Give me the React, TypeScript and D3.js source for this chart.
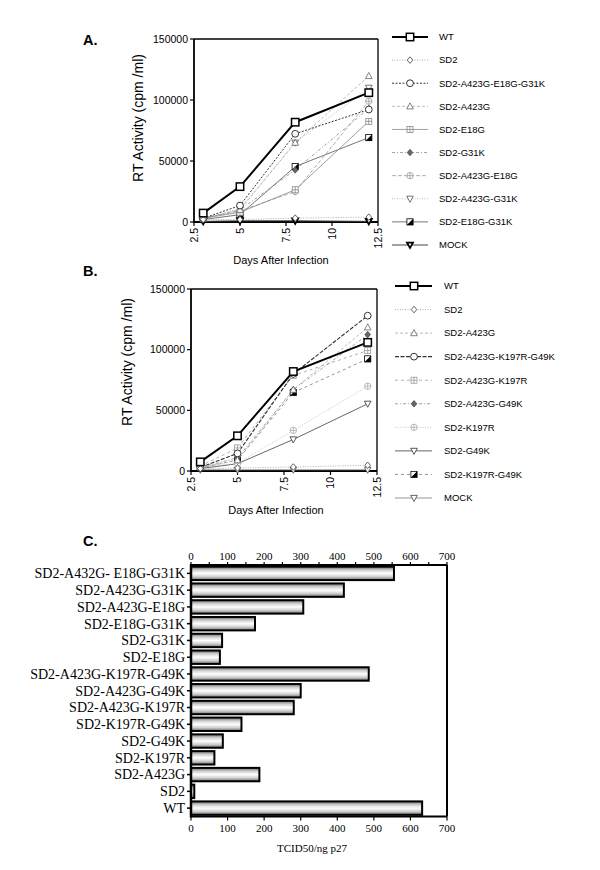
import React from 'react';
import * as d3 from 'd3';

// ---------- shared ----------
const days = [3, 5, 8, 12];
const xTicks = [2.5, 5, 7.5, 10, 12.5];
const xTickLabels = ['2.5', '5', '7.5', '10', '12.5'];
const yTicks = [0, 50000, 100000, 150000];

// ---------- Panel A data ----------
const namesA = ['WT', 'SD2', 'SD2-A423G-E18G-G31K', 'SD2-A423G', 'SD2-E18G', 'SD2-G31K', 'SD2-A423G-E18G', 'SD2-A423G-G31K', 'SD2-E18G-G31K', 'MOCK'];
const a_WT = [7300, 29000, 81800, 106000];
const a_SD2 = [2000, 2000, 3200, 4000];
const a_A423G_E18G_G31K = [3000, 13500, 72300, 92200];
const a_A423G = [3000, 10000, 65000, 119700];
const a_E18G = [3000, 8000, 26400, 82500];
const a_G31K = [2500, 10000, 42700, 93000];
const a_A423G_E18G = [3500, 9000, 25000, 99000];
const a_A423G_G31K = [2500, 11000, 65000, 110000];
const a_E18G_G31K = [2000, 6000, 45400, 69200];
const a_MOCK = [500, 1000, 1000, 500];
const valuesA = [a_WT, a_SD2, a_A423G_E18G_G31K, a_A423G, a_E18G, a_G31K, a_A423G_E18G, a_A423G_G31K, a_E18G_G31K, a_MOCK];

// ---------- Panel B data ----------
const namesB = ['WT', 'SD2', 'SD2-A423G', 'SD2-A423G-K197R-G49K', 'SD2-A423G-K197R', 'SD2-A423G-G49K', 'SD2-K197R', 'SD2-G49K', 'SD2-K197R-G49K', 'MOCK'];
const b_WT = [7500, 29000, 82000, 106000];
const b_SD2 = [2000, 2500, 3300, 4700];
const b_A423G = [3000, 9000, 67000, 118400];
const b_A423G_K197R_G49K = [3000, 14500, 80000, 128000];
const b_A423G_K197R = [4000, 19000, 78700, 99300];
const b_A423G_G49K = [3000, 10900, 67000, 112400];
const b_K197R = [3000, 6300, 33500, 69900];
const b_G49K = [2000, 6000, 26000, 55400];
const b_K197R_G49K = [2500, 9000, 64700, 92400];
const b_MOCK = [1000, 1000, 1000, 1000];
const valuesB = [b_WT, b_SD2, b_A423G, b_A423G_K197R_G49K, b_A423G_K197R, b_A423G_G49K, b_K197R, b_G49K, b_K197R_G49K, b_MOCK];

// ---------- Panel C data ----------
const categoriesC = ['SD2-A432G- E18G-G31K', 'SD2-A423G-G31K', 'SD2-A423G-E18G', 'SD2-E18G-G31K', 'SD2-G31K', 'SD2-E18G', 'SD2-A423G-K197R-G49K', 'SD2-A423G-G49K', 'SD2-A423G-K197R', 'SD2-K197R-G49K', 'SD2-G49K', 'SD2-K197R', 'SD2-A423G', 'SD2', 'WT'];
const valuesC = [555, 418, 307, 175, 85, 79, 486, 300, 281, 138, 87, 64, 187, 9, 632];
const cTicks = [0, 100, 200, 300, 400, 500, 600, 700];
const cMinorTicks = [0, 50, 100, 150, 200, 250, 300, 350, 400, 450, 500, 550, 600, 650, 700];

// ---------- styles ----------
type Sty = { stroke: string; width: number; dash?: string; marker: string; mcolor: string };
const stylesA: Sty[] = [
  { stroke: '#000', width: 2, marker: 'square', mcolor: '#000' },
  { stroke: '#999', width: 0.8, dash: '1,1.5', marker: 'diamond', mcolor: '#555' },
  { stroke: '#333', width: 1, dash: '2,1.5', marker: 'circle', mcolor: '#333' },
  { stroke: '#aaa', width: 0.8, dash: '3,2', marker: 'triangle', mcolor: '#666' },
  { stroke: '#888', width: 0.8, marker: 'sqcross', mcolor: '#888' },
  { stroke: '#888', width: 0.8, dash: '3,2,1,2', marker: 'diamondFilled', mcolor: '#666' },
  { stroke: '#999', width: 0.8, dash: '4,2', marker: 'circlecross', mcolor: '#999' },
  { stroke: '#aaa', width: 0.8, dash: '1,1.5', marker: 'triDown', mcolor: '#666' },
  { stroke: '#666', width: 0.9, marker: 'halfSquare', mcolor: '#000' },
  { stroke: '#444', width: 1, marker: 'triDownBold', mcolor: '#000' },
];
const stylesB: Sty[] = [
  { stroke: '#000', width: 2, marker: 'square', mcolor: '#000' },
  { stroke: '#999', width: 0.8, dash: '1,1.5', marker: 'diamond', mcolor: '#555' },
  { stroke: '#aaa', width: 0.8, dash: '3,2', marker: 'triangle', mcolor: '#666' },
  { stroke: '#333', width: 1.1, dash: '4,1.5', marker: 'circle', mcolor: '#333' },
  { stroke: '#999', width: 0.8, dash: '3,3', marker: 'sqcross', mcolor: '#999' },
  { stroke: '#888', width: 0.8, dash: '3,2,1,2', marker: 'diamondFilled', mcolor: '#666' },
  { stroke: '#bbb', width: 0.8, dash: '1,1.5', marker: 'circlecross', mcolor: '#aaa' },
  { stroke: '#555', width: 0.9, marker: 'triDown', mcolor: '#444' },
  { stroke: '#777', width: 0.8, dash: '3,3', marker: 'halfSquare', mcolor: '#000' },
  { stroke: '#888', width: 0.9, marker: 'triDown', mcolor: '#555' },
];

const SANS = '"Liberation Sans", Arial, Helvetica, sans-serif';
const SERIF = '"Liberation Serif", "Times New Roman", serif';

function Marker({ kind, x, y, color }: { kind: string; x: number; y: number; color: string }) {
  switch (kind) {
    case 'square':
      return <rect x={x - 3.7} y={y - 3.7} width={7.4} height={7.4} fill="#fff" stroke="#000" strokeWidth={1.5} />;
    case 'diamond':
      return <path d={`M${x},${y - 3.3}L${x + 2.8},${y}L${x},${y + 3.3}L${x - 2.8},${y}Z`} fill="#fff" stroke={color} strokeWidth={0.9} />;
    case 'diamondFilled':
      return <path d={`M${x},${y - 3.3}L${x + 2.8},${y}L${x},${y + 3.3}L${x - 2.8},${y}Z`} fill={color} stroke="#444" strokeWidth={0.7} />;
    case 'circle':
      return <circle cx={x} cy={y} r={3.4} fill="#fff" stroke={color} strokeWidth={1} />;
    case 'triangle':
      return <path d={`M${x},${y - 3.5}L${x + 3.3},${y + 2.6}L${x - 3.3},${y + 2.6}Z`} fill="#fff" stroke={color} strokeWidth={0.8} />;
    case 'triDown':
      return <path d={`M${x - 3.3},${y - 2.6}L${x + 3.3},${y - 2.6}L${x},${y + 3.5}Z`} fill="#fff" stroke={color} strokeWidth={0.9} />;
    case 'triDownBold':
      return <path d={`M${x - 3},${y - 2.4}L${x + 3},${y - 2.4}L${x},${y + 3}Z`} fill="#fff" stroke="#000" strokeWidth={1.8} />;
    case 'sqcross':
      return (
        <g stroke={color} strokeWidth={0.8} fill="#fff">
          <rect x={x - 3} y={y - 3} width={6} height={6} />
          <line x1={x - 3} x2={x + 3} y1={y} y2={y} />
          <line x1={x} x2={x} y1={y - 3} y2={y + 3} />
        </g>
      );
    case 'circlecross':
      return (
        <g stroke={color} strokeWidth={0.8} fill="#fff">
          <circle cx={x} cy={y} r={3.2} />
          <line x1={x - 3.2} x2={x + 3.2} y1={y} y2={y} />
          <line x1={x} x2={x} y1={y - 3.2} y2={y + 3.2} />
        </g>
      );
    case 'halfSquare':
      return (
        <g>
          <rect x={x - 3.1} y={y - 3.1} width={6.2} height={6.2} fill="#fff" stroke="#000" strokeWidth={0.8} />
          <path d={`M${x + 3.1},${y - 3.1}L${x + 3.1},${y + 3.1}L${x - 3.1},${y + 3.1}Z`} fill="#000" />
        </g>
      );
    default:
      return null;
  }
}

type PanelProps = {
  label: string; labelX: number; labelY: number;
  x0: number; x1: number; yTop: number; yBot: number;
  ylabX: number; ylabY: number; xlabX: number; xlabY: number;
  names: string[]; values: number[][]; styles: Sty[];
  legTop: number; legBot: number; legL0: number; legL1: number; legM: number; legT: number;
};

function LinePanel(p: PanelProps) {
  const x = d3.scaleLinear().domain([2.5, 12.5]).range([p.x0, p.x1]);
  const y = d3.scaleLinear().domain([0, 150000]).range([p.yBot, p.yTop]);
  const line = d3.line<number>().x((_, i) => x(days[i])).y((d) => y(d));
  const leg = d3.scalePoint<string>().domain(p.names).range([p.legTop, p.legBot]);
  const order = p.names.map((_, i) => i).reverse();
  return (
    <g>
      <text x={p.labelX} y={p.labelY} fontFamily={SANS} fontWeight="bold" fontSize={14.5}>{p.label}</text>
      {/* frame */}
      <line x1={p.x0} x2={p.x1} y1={p.yTop} y2={p.yTop} stroke="#000" strokeWidth={1.3} />
      <line x1={p.x1} x2={p.x1} y1={p.yTop} y2={p.yBot} stroke="#000" strokeWidth={1.3} />
      <line x1={p.x0} x2={p.x0} y1={p.yTop} y2={p.yBot + 1} stroke="#000" strokeWidth={1.8} />
      <line x1={p.x0} x2={p.x1} y1={p.yBot} y2={p.yBot} stroke="#000" strokeWidth={1.8} />
      {yTicks.map((t) => (
        <g key={t}>
          <line x1={p.x0 - 4} x2={p.x0} y1={y(t)} y2={y(t)} stroke="#000" strokeWidth={1.2} />
          <text x={p.x0 - 6} y={y(t)} dy="0.35em" textAnchor="end" fontFamily={SANS} fontSize={10.5}>{t}</text>
        </g>
      ))}
      {xTicks.map((t, i) => (
        <g key={t}>
          <line x1={x(t)} x2={x(t)} y1={p.yBot} y2={p.yBot + 4} stroke="#000" strokeWidth={1.2} />
          <text transform={`translate(${x(t)},${p.yBot + 6}) rotate(-90)`} dy="0.35em" textAnchor="end" fontFamily={SANS} fontSize={10.5}>{xTickLabels[i]}</text>
        </g>
      ))}
      <text transform={`translate(${p.ylabX},${p.ylabY}) rotate(-90)`} textAnchor="middle" fontFamily={SANS} fontSize={14}>RT Activity (cpm /ml)</text>
      <text x={p.xlabX} y={p.xlabY} textAnchor="middle" fontFamily={SANS} fontSize={11}>Days After Infection</text>
      {order.map((i) => (
        <path key={'l' + i} d={line(p.values[i]) || ''} fill="none" stroke={p.styles[i].stroke} strokeWidth={p.styles[i].width} strokeDasharray={p.styles[i].dash} />
      ))}
      {order.map((i) => (
        <g key={'m' + i}>
          {p.values[i].map((v, j) => (
            <Marker key={j} kind={p.styles[i].marker} x={x(days[j])} y={y(v)} color={p.styles[i].mcolor} />
          ))}
        </g>
      ))}
      {/* legend */}
      {p.names.map((n, i) => {
        const ly = leg(n) as number;
        const s = p.styles[i];
        return (
          <g key={'g' + n}>
            <line x1={p.legL0} x2={p.legL1} y1={ly} y2={ly} stroke={s.stroke} strokeWidth={s.width} strokeDasharray={s.dash} />
            <Marker kind={s.marker} x={p.legM} y={ly} color={s.mcolor} />
            <text x={p.legT} y={ly} dy="0.35em" fontFamily={SANS} fontSize={9.5}>{n}</text>
          </g>
        );
      })}
    </g>
  );
}

function BarPanel() {
  const x = d3.scaleLinear().domain([0, 700]).range([191, 447]);
  const y = d3.scaleBand<string>().domain(categoriesC).range([565, 816.5]).paddingInner(0.2).paddingOuter(0.1);
  const top = 565, bot = 816.5;
  return (
    <g>
      <defs>
        <linearGradient id="barGrad" x1="0" y1="0" x2="0" y2="1">
          <stop offset="0%" stopColor="#6a6a6a" />
          <stop offset="25%" stopColor="#cfcfcf" />
          <stop offset="50%" stopColor="#ffffff" />
          <stop offset="75%" stopColor="#cfcfcf" />
          <stop offset="100%" stopColor="#6a6a6a" />
        </linearGradient>
      </defs>
      <text x={83} y={546} fontFamily={SANS} fontWeight="bold" fontSize={14.5}>C.</text>
      {categoriesC.map((c, i) => (
        <rect key={c} x={x(0)} y={y(c)} width={x(valuesC[i]) - x(0)} height={y.bandwidth()} fill="url(#barGrad)" stroke="#000" strokeWidth={2} />
      ))}
      {/* frame */}
      <line x1={x(0)} x2={x(700)} y1={top} y2={top} stroke="#000" strokeWidth={2} />
      <line x1={x(0)} x2={x(700)} y1={bot} y2={bot} stroke="#000" strokeWidth={2} />
      <line x1={x(700)} x2={x(700)} y1={top} y2={bot} stroke="#000" strokeWidth={2} />
      <line x1={x(0)} x2={x(0)} y1={top - 1} y2={bot + 1} stroke="#000" strokeWidth={2.5} />
      {cMinorTicks.map((t) => (
        <line key={'tm' + t} x1={x(t)} x2={x(t)} y1={top} y2={top - 3} stroke="#000" strokeWidth={1.2} />
      ))}
      {cTicks.map((t) => (
        <g key={'t' + t}>
          <text x={x(t)} y={560} textAnchor="middle" fontFamily={SERIF} fontSize={11}>{t}</text>
          <line x1={x(t)} x2={x(t)} y1={bot} y2={bot + 4} stroke="#000" strokeWidth={1.2} />
          <text x={x(t)} y={832} textAnchor="middle" fontFamily={SERIF} fontSize={11}>{t}</text>
        </g>
      ))}
      {categoriesC.map((c) => {
        const cy = (y(c) as number) + y.bandwidth() / 2;
        return (
          <g key={'c' + c}>
            <line x1={x(0) - 4} x2={x(0)} y1={cy} y2={cy} stroke="#000" strokeWidth={1.5} />
            <text x={x(0) - 6} y={cy} dy="0.35em" textAnchor="end" fontFamily={SERIF} fontSize={14}>{c}</text>
          </g>
        );
      })}
      <text x={312} y={852} textAnchor="middle" fontFamily={SERIF} fontSize={11}>TCID50/ng p27</text>
    </g>
  );
}

export default function App() {
  return (
    <svg width={600} height={870} style={{ position: 'absolute', left: 0, top: 0, background: '#fff' }}>
      <rect width={600} height={870} fill="#fff" />
      <LinePanel label="A." labelX={83} labelY={45} x0={194} x1={378} yTop={39} yBot={222}
        ylabX={143} ylabY={118} xlabX={281} xlabY={264}
        names={namesA} values={valuesA} styles={stylesA}
        legTop={37} legBot={245} legL0={392} legL1={428} legM={410} legT={439} />
      <LinePanel label="B." labelX={83} labelY={276} x0={191} x1={377} yTop={289} yBot={471}
        ylabX={132} ylabY={362} xlabX={276} xlabY={514}
        names={namesB} values={valuesB} styles={stylesB}
        legTop={286} legBot={498} legL0={395} legL1={432} legM={414} legT={444} />
      <BarPanel />
    </svg>
  );
}
